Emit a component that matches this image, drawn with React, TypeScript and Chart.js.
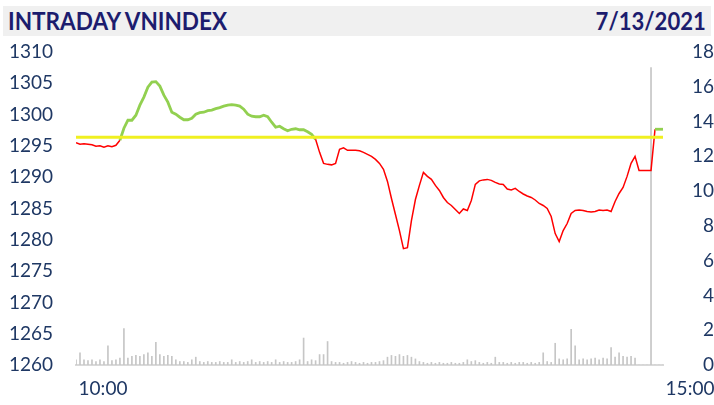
import React, { useEffect, useRef } from "react";
import { Chart, registerables } from "chart.js";

Chart.register(...registerables);

const TITLE = "INTRADAY VNINDEX";
const DATE_LABEL = "7/13/2021";
const REFERENCE_PRICE = 1296.4;
const TIME_LABELS = ["10:00", "15:00"];
const PRICE_AXIS = [1260, 1310, 5];
const VOLUME_AXIS = [0, 18, 2];

const PRICE = [
  1295.5, 1295.26, 1295.34, 1295.26, 1295.18, 1294.94, 1295.02, 1294.78, 1295.02, 1294.86,
  1295.1, 1295.9, 1297.82, 1299.1, 1299.1, 1299.9, 1301.51, 1302.79, 1304.39, 1305.19,
  1305.27, 1304.55, 1303.11, 1301.99, 1300.38, 1300.06, 1299.58, 1299.18, 1299.18, 1299.42,
  1300.06, 1300.3, 1300.38, 1300.62, 1300.71, 1300.95, 1301.11, 1301.35, 1301.51, 1301.59,
  1301.51, 1301.35, 1300.87, 1300.06, 1299.74, 1299.66, 1299.66, 1299.9, 1299.66, 1298.78,
  1297.98, 1298.14, 1297.74, 1297.42, 1297.66, 1297.74, 1297.58, 1297.58, 1297.26, 1296.86,
  1296.06, 1293.97, 1292.21, 1292.05, 1291.97, 1292.21, 1294.46, 1294.7, 1294.29, 1294.29,
  1294.29, 1294.21, 1293.97, 1293.65, 1293.33, 1292.85, 1292.21, 1291.25, 1289.33, 1286.6,
  1284.04, 1281.47, 1278.59, 1278.75, 1283.08, 1286.44, 1288.69, 1290.77, 1290.13, 1289.65,
  1288.69, 1287.88, 1286.76, 1285.96, 1285.48, 1284.84, 1284.2, 1284.92, 1284.68, 1286.28,
  1288.85, 1289.41, 1289.57, 1289.65, 1289.49, 1289.17, 1288.93, 1288.85, 1288.12, 1287.96,
  1288.21, 1287.72, 1287.32, 1287.0, 1286.76, 1286.36, 1285.8, 1285.48, 1285.0, 1283.72,
  1280.99, 1279.71, 1281.47, 1282.6, 1284.2, 1284.68, 1284.76, 1284.68, 1284.52, 1284.44,
  1284.52, 1284.76, 1284.68, 1284.76, 1284.52, 1286.12, 1287.4, 1288.37, 1290.13, 1292.21,
  1293.33, 1291.09, 1291.09, 1291.09, 1291.09, 1297.66, 1297.66, 1297.66,
];

const VOLUME = [
  0.3, 0.7, 0.3, 0.25, 0.3, 0.2, 0.3, 0.2, 1.1, 0.25,
  0.3, 0.4, 2.1, 0.4, 0.5, 0.55, 0.5, 0.6, 0.7, 0.5,
  1.3, 0.6, 0.5, 0.55, 0.5, 0.3, 0.2, 0.2, 0.15, 0.3,
  0.45, 0.2, 0.15, 0.2, 0.15, 0.15, 0.2, 0.15, 0.15, 0.3,
  0.15, 0.2, 0.15, 0.2, 0.3, 0.15, 0.2, 0.15, 0.2, 0.15,
  0.3, 0.15, 0.2, 0.15, 0.15, 0.2, 0.3, 1.55, 0.2, 0.3,
  0.25, 0.6, 0.6, 1.35, 0.2, 0.15, 0.15, 0.1, 0.15, 0.2,
  0.15, 0.1, 0.15, 0.1, 0.15, 0.15, 0.2, 0.25, 0.45, 0.55,
  0.5, 0.6, 0.5, 0.55, 0.45, 0.35, 0.2, 0.15, 0.1, 0.15,
  0.1, 0.15, 0.1, 0.1, 0.15, 0.1, 0.1, 0.15, 0.3, 0.2,
  0.25, 0.15, 0.1, 0.15, 0.1, 0.45, 0.15, 0.15, 0.1, 0.15,
  0.1, 0.15, 0.15, 0.1, 0.15, 0.1, 0.15, 0.7, 0.2, 0.15,
  1.25, 0.35, 0.3, 0.35, 2.05, 1.1, 0.3, 0.35, 0.3, 0.35,
  0.4, 0.3, 0.4, 0.35, 1.0, 0.45, 0.7, 0.5, 0.45, 0.5,
  0.4, 0, 0, 0, 17.1, 0, 0, 0,
];

const NAVY = "#1f3864";
const TITLE_NAVY = "#1c1c6e";
const GREEN = "#92d050";
const RED = "#ff0000";
const YELLOW = "#f0f020";
const VOLUME_GRAY = "#c6c6c6";

export default function App() {
  const canvasRef = useRef<HTMLCanvasElement | null>(null);

  useEffect(() => {
    const canvas = canvasRef.current;
    if (!canvas) return;
    const lastIndex = PRICE.length - 1;
    const tickFont = { family: "Lato", size: 19 };
    const chart = new Chart(canvas, {
      type: "line",
      data: {
        datasets: [
          {
            type: "line",
            label: "Reference",
            data: PRICE.map((_, i) => ({ x: i, y: REFERENCE_PRICE })),
            borderColor: YELLOW,
            borderWidth: 3,
            pointRadius: 0,
            yAxisID: "y",
            order: 0,
          },
          {
            type: "line",
            label: "VNINDEX",
            data: PRICE.map((v, i) => ({ x: i, y: v })),
            borderColor: RED,
            borderWidth: 1.5,
            pointRadius: 0,
            tension: 0,
            yAxisID: "y",
            order: 1,
            segment: {
              borderColor: (ctx: any) =>
                (ctx.p0.parsed.y + ctx.p1.parsed.y) / 2 >= REFERENCE_PRICE ? GREEN : RED,
              borderWidth: (ctx: any) =>
                (ctx.p0.parsed.y + ctx.p1.parsed.y) / 2 >= REFERENCE_PRICE ? 2.8 : 1.5,
            },
          },
          {
            type: "bar",
            label: "Volume",
            data: VOLUME.map((v, i) => ({ x: i, y: v })),
            backgroundColor: VOLUME_GRAY,
            barThickness: 1,
            yAxisID: "y1",
            order: 2,
          },
        ],
      } as any,
      options: {
        responsive: false,
        animation: false,
        layout: { padding: { top: 52, left: 0, right: 0, bottom: 0 } },
        plugins: {
          legend: { display: false },
          tooltip: { enabled: false },
        },
        scales: {
          x: {
            type: "linear",
            min: 0,
            max: lastIndex,
            offset: false,
            grid: { display: false, drawTicks: false },
            border: { display: true, color: "#d9d9d9", width: 2 },
            afterBuildTicks: (s: any) => {
              s.ticks = [{ value: 0 }, { value: lastIndex }];
            },
            afterFit: (s: any) => {
              s.height = 40;
            },
            ticks: {
              autoSkip: false,
              maxRotation: 0,
              padding: 12,
              labelOffset: 27,
              color: NAVY,
              font: tickFont,
              callback: (_v: any, idx: number) => TIME_LABELS[idx],
            },
          },
          y: {
            position: "left",
            min: PRICE_AXIS[0],
            max: PRICE_AXIS[1],
            grid: { display: false, drawTicks: false },
            border: { display: false },
            afterFit: (s: any) => {
              s.width = 76;
            },
            ticks: {
              stepSize: PRICE_AXIS[2],
              padding: 23,
              color: NAVY,
              font: tickFont,
              callback: (v: any) => String(v),
            },
          },
          y1: {
            position: "right",
            min: VOLUME_AXIS[0],
            max: VOLUME_AXIS[1],
            grid: { display: false, drawTicks: false },
            border: { display: false },
            afterFit: (s: any) => {
              s.width = 51;
            },
            ticks: {
              stepSize: VOLUME_AXIS[2],
              padding: 11,
              crossAlign: "far",
              color: NAVY,
              font: tickFont,
              callback: (v: any) => String(v),
            },
          },
        },
      } as any,
    });
    return () => chart.destroy();
  }, []);

  return (
    <div
      style={{
        position: "fixed",
        left: 0,
        top: 0,
        width: 714,
        height: 405,
        background: "#ffffff",
        overflow: "hidden",
      }}
    >
      <canvas
        ref={canvasRef}
        width={714}
        height={405}
        style={{ position: "absolute", left: 0, top: 0, width: 714, height: 405 }}
      />
      <div
        style={{
          position: "absolute",
          left: 3,
          top: 6,
          width: 708,
          height: 30,
          background: "#f0f0f0",
          fontFamily: "Lato, sans-serif",
          fontWeight: 700,
          fontSize: 24,
          lineHeight: "30px",
          color: TITLE_NAVY,
          whiteSpace: "nowrap",
        }}
      >
        <span
          style={{
            position: "absolute",
            left: 5,
            top: 0,
            display: "inline-block",
            transform: "scaleX(0.94)",
            transformOrigin: "left center",
          }}
        >
          {TITLE}
        </span>
        <span
          style={{
            position: "absolute",
            right: 5,
            top: 0,
            display: "inline-block",
            transform: "scaleX(0.92)",
            transformOrigin: "right center",
          }}
        >
          {DATE_LABEL}
        </span>
      </div>
    </div>
  );
}
